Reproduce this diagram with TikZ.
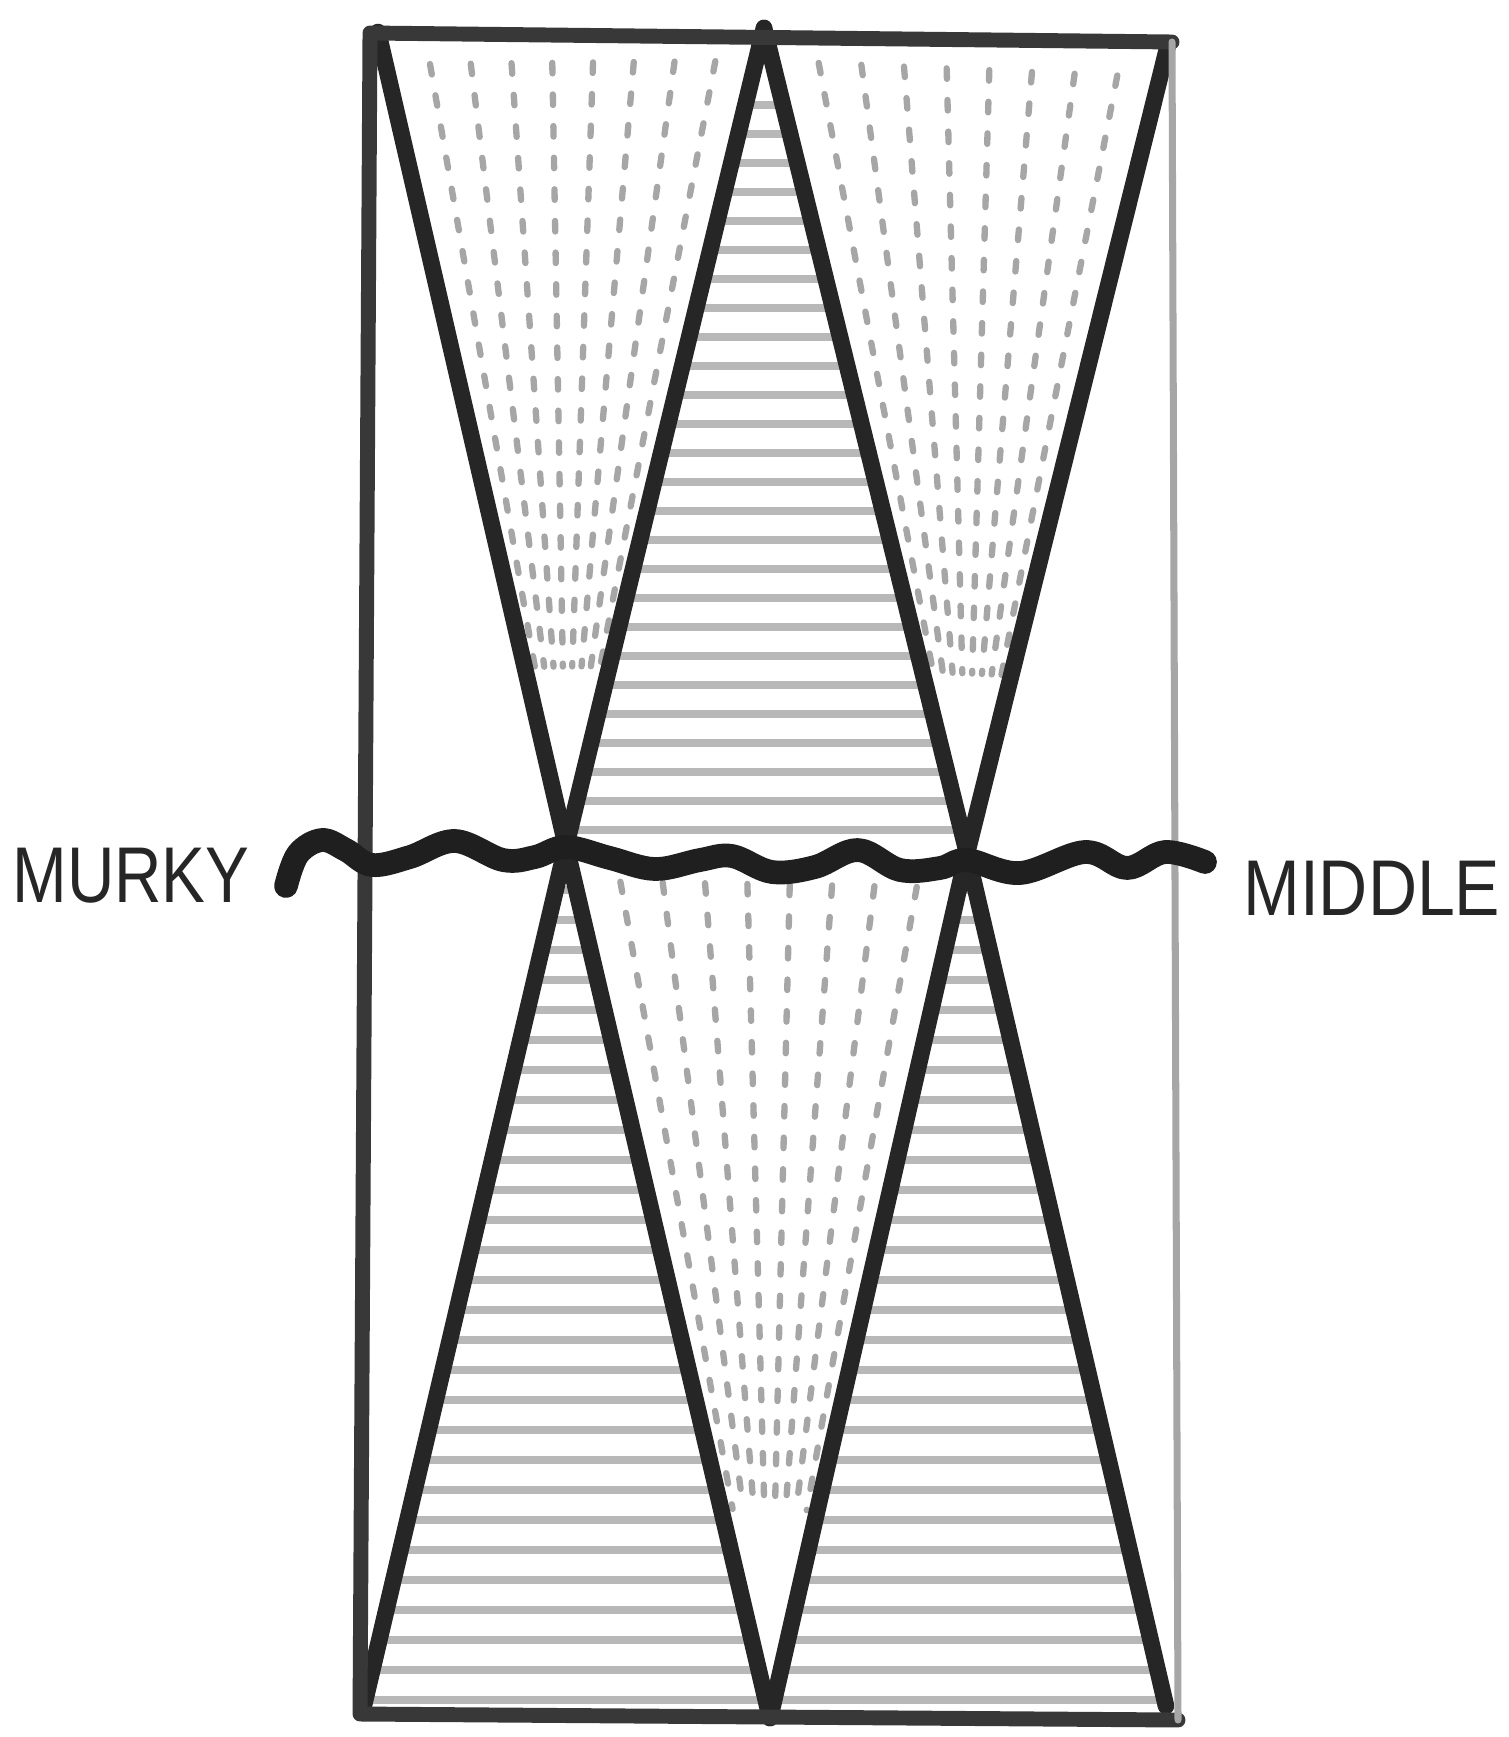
\documentclass[tikz,border=0pt]{standalone}
\usepackage{fontspec}
\setmainfont{Liberation Sans}
\usepackage{graphicx}
\usetikzlibrary{calc}

\begin{document}
\begin{tikzpicture}[
    x=0.02cm, y=-0.02cm,
    line cap=round, line join=round,
    ink/.style={draw=black!85, line width=9.5pt},
    frame/.style={draw=black!78, line width=8.5pt},
    faintframe/.style={draw=black!35, line width=4pt},
    hatch/.style={draw=black!28, line width=4.5pt},
    stipple/.style={draw=black!35, line width=3.6pt, dash pattern=on 6pt off 12pt},
    wave/.style={draw=black!88, line width=13.5pt},
    word/.style={anchor=base west, inner sep=0pt, text=black!85, font=\fontsize{45}{50}\selectfont}
]
    \useasboundingbox (0,0) rectangle (1508,1737);
    \clip (0,0) rectangle (1508,1737);

    % ends of the two crosses
    \coordinate (tl) at (378,32);
    \coordinate (tm) at (764,28);
    \coordinate (tr) at (1168,45);
    \coordinate (bl) at (364,1705);
    \coordinate (bm) at (770,1718);
    \coordinate (br) at (1166,1706);
    \coordinate (lx) at (566,846);
    \coordinate (rx) at (967,853);

    % frame corners
    \coordinate (ftl) at (370,33);
    \coordinate (ftr) at (1172,42);
    \coordinate (fbr) at (1178,1720);
    \coordinate (fbl) at (360,1714);

    % Hatched triangles
    \begin{scope}
        \clip (tm) -- (lx) -- (rx) -- cycle;
        \foreach \y in {105,134,...,840}
            \draw[hatch] (300,\y) -- (1200,\y);
    \end{scope}
    \begin{scope}
        \clip (lx) -- (bl) -- (bm) -- cycle (rx) -- (bm) -- (br) -- cycle;
        \foreach \y in {890,920,...,1700}
            \draw[hatch] (300,\y) -- (1200,\y);
    \end{scope}

    % Stippled triangles
    \begin{scope}
        \clip (tl) -- (tm) -- (lx) -- cycle;
        \foreach \t in {0.12,0.23,...,0.9}
            \draw[stipple] ($(tl)!\t!(tm)!0.04!(lx)$) -- ($(tl)!\t!(tm)!0.78!(lx)$);
    \end{scope}
    \begin{scope}
        \clip (tm) -- (tr) -- (rx) -- cycle;
        \foreach \t in {0.12,0.23,...,0.9}
            \draw[stipple] ($(tm)!\t!(tr)!0.04!(rx)$) -- ($(tm)!\t!(tr)!0.78!(rx)$);
    \end{scope}
    \begin{scope}
        \clip (lx) -- (rx) -- (bm) -- cycle;
        \foreach \t in {0.12,0.23,...,0.9}
            \draw[stipple] ($(lx)!\t!(rx)!0.04!(bm)$) -- ($(lx)!\t!(rx)!0.76!(bm)$);
    \end{scope}

    % Crosses
    \draw[ink] (tl) -- (lx) -- (bm);
    \draw[ink] (tm) -- (lx) -- (bl);
    \draw[ink] (tm) -- (rx) -- (br);
    \draw[ink] (tr) -- (rx) -- (bm);

    % Frame
    \draw[frame] (ftr) -- (ftl) -- (fbl) -- (fbr);
    \draw[faintframe] (ftr) -- (fbr);

    % Wavy middle line
    \draw[wave] plot[smooth, tension=0.6] coordinates {
        (286,886) (298,854) (322,840) (346,850) (372,865) (410,857)
        (455,841) (503,860) (535,857) (566,847) (610,858) (655,869)
        (700,860) (732,856) (772,872) (815,867) (858,850) (900,870)
        (940,868) (967,860) (1020,873) (1085,852) (1127,868)
        (1165,852) (1205,862)};

    % Labels
    \node[word] (murky) at (12,902) {\scalebox{0.83}[1]{MURKY}};
    \node[word] (middle) at (1243,915) {\scalebox{0.86}[1]{MIDDLE}};
\end{tikzpicture}
\end{document}
